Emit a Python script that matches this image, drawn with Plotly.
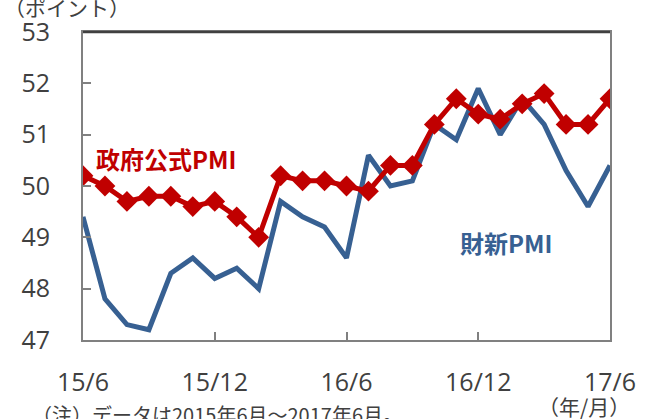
import plotly.graph_objects as go

months = ["15/6","15/7","15/8","15/9","15/10","15/11","15/12",
          "16/1","16/2","16/3","16/4","16/5","16/6","16/7","16/8","16/9","16/10","16/11","16/12",
          "17/1","17/2","17/3","17/4","17/5","17/6"]
official_pmi = [50.2, 50.0, 49.7, 49.8, 49.8, 49.6, 49.7, 49.4, 49.0, 50.2, 50.1, 50.1, 50.0,
                49.9, 50.4, 50.4, 51.2, 51.7, 51.4, 51.3, 51.6, 51.8, 51.2, 51.2, 51.7]
caixin_pmi = [49.4, 47.8, 47.3, 47.2, 48.3, 48.6, 48.2, 48.4, 48.0, 49.7, 49.4, 49.2, 48.6,
              50.6, 50.0, 50.1, 51.2, 50.9, 51.9, 51.0, 51.7, 51.2, 50.3, 49.6, 50.4]
x_ticks = ["15/6", "15/12", "16/6", "16/12", "17/6"]
y_ticks = [47, 48, 49, 50, 51, 52, 53]

RED = "#C00000"
BLUE = "#376092"
FONT = "Noto Sans CJK JP"
NUMFONT = "Open Sans"
TXT = "#404040"

fig = go.Figure()
fig.add_trace(go.Scatter(x=months, y=caixin_pmi, mode="lines",
                         line=dict(color=BLUE, width=5), name="財新PMI"))
fig.add_trace(go.Scatter(x=months, y=official_pmi, mode="lines+markers",
                         line=dict(color=RED, width=5),
                         marker=dict(symbol="diamond", size=16, color=RED),
                         name="政府公式PMI"))

fig.update_layout(
    width=648, height=419,
    margin=dict(l=83, r=38, t=32, b=79),
    paper_bgcolor="white", plot_bgcolor="white",
    showlegend=False,
    font=dict(family=FONT, size=20, color=TXT),
    xaxis=dict(type="category", categoryorder="array", categoryarray=months,
               range=[0, 24], tickmode="array", tickvals=x_ticks, ticktext=x_ticks,
               ticks="inside", ticklen=8, tickcolor="#808080", tickwidth=1.5,
               showline=True, linecolor="#808080", linewidth=2, mirror=True,
               showgrid=False, zeroline=False, ticklabelstandoff=19, automargin=False,
               tickfont=dict(family=NUMFONT, size=25, color=TXT)),
    yaxis=dict(range=[47, 53], tickmode="array", tickvals=y_ticks,
               ticks="inside", ticklen=8, tickcolor="#808080", tickwidth=1.5,
               showline=True, linecolor="#808080", linewidth=2, mirror=True,
               showgrid=False, zeroline=False, ticklabelstandoff=26, automargin=False,
               tickfont=dict(family=NUMFONT, size=25, color=TXT)),
)

fig.add_shape(type="line", xref="paper", yref="paper", x0=0, x1=1, y0=1, y1=1,
              line=dict(color="#404040", width=2.5))

fig.add_annotation(text="<b>政府公式PMI</b>", xref="paper", yref="paper",
                   x=(94 - 83) / 527, y=(340 - 158) / 308, xanchor="left", yanchor="middle",
                   showarrow=False, font=dict(family=FONT, size=24, color=RED))
fig.add_annotation(text="<b>財新PMI</b>", xref="paper", yref="paper",
                   x=(458 - 83) / 527, y=(340 - 242) / 308, xanchor="left", yanchor="middle",
                   showarrow=False, font=dict(family=FONT, size=24, color=BLUE))
fig.add_annotation(text="（ポイント）", xref="paper", yref="paper",
                   x=(2 - 83) / 527, y=(340 - 7) / 308, xanchor="left", yanchor="middle",
                   showarrow=False, font=dict(family=FONT, size=21, color=TXT))
fig.add_annotation(text="（年/月）", xref="paper", yref="paper",
                   x=(584 - 83) / 527, y=(340 - 406) / 308, xanchor="center", yanchor="middle",
                   showarrow=False, font=dict(family=FONT, size=21, color=TXT))
fig.add_annotation(text="（注）データは2015年6月～2017年6月。", xref="paper", yref="paper",
                   x=(30 - 83) / 527, y=(340 - 414) / 308, xanchor="left", yanchor="middle",
                   showarrow=False, font=dict(family=FONT, size=20, color=TXT))

fig.write_html("out.html", config={"displayModeBar": False},
               post_script="document.body.style.margin='0';document.body.style.overflow='hidden';")
